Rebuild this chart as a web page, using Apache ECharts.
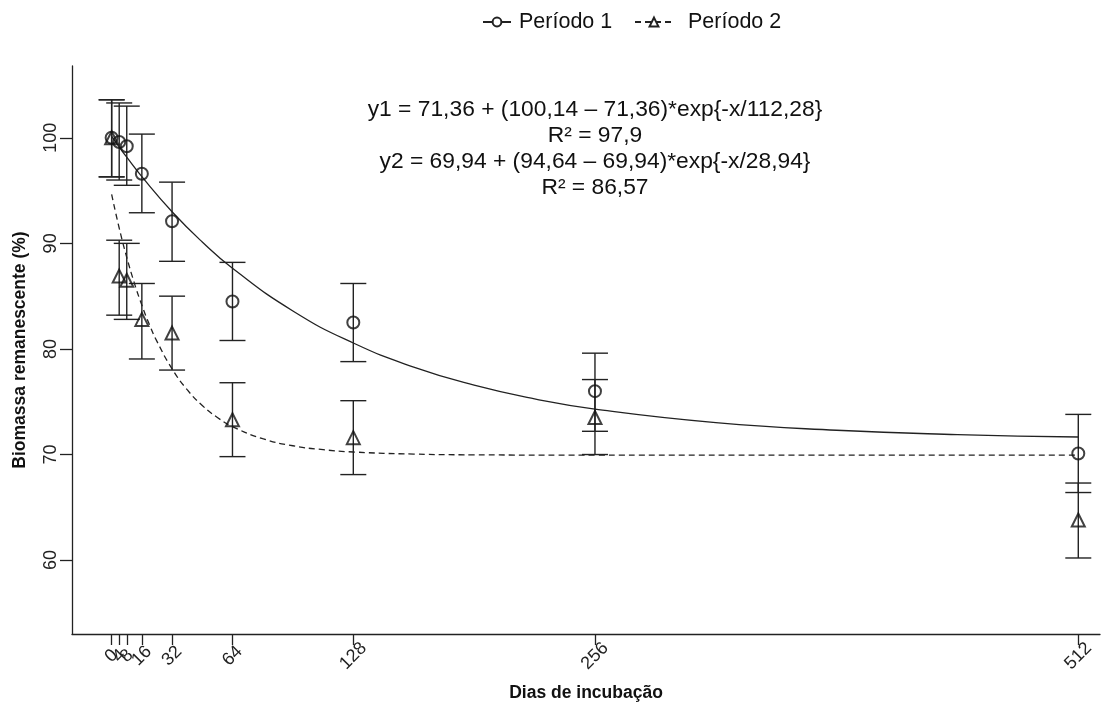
<!DOCTYPE html>
<html>
<head>
<meta charset="utf-8">
<script src="https://cdn.jsdelivr.net/npm/echarts@6/dist/echarts.min.js"></script>
<style>
html,body{margin:0;padding:0;background:#fff;}
#chart{width:1113px;height:703px;}
</style>
</head>
<body>
<div id="chart"></div>
<script>
// ---- data ----
const days = [0, 4, 8, 16, 32, 64, 128, 256, 512];
const xTicks = [0, 4, 8, 16, 32, 64, 128, 256, 512];
const yTicks = [60, 70, 80, 90, 100];

const p1Mean = [100.0, 99.6, 99.2, 96.6, 92.1, 84.5, 82.5, 76.0, 70.1];
const p1Low  = [96.3, 96.0, 95.5, 92.9, 88.3, 80.8, 78.8, 72.2, 66.4];
const p1High = [103.6, 103.3, 103.0, 100.35, 95.8, 88.2, 86.2, 79.6, 73.8];

const p2Mean = [100.0, 86.9, 86.5, 82.8, 81.5, 73.3, 71.6, 73.5, 63.8];
const p2Low  = [96.3, 83.2, 82.8, 79.05, 78.0, 69.8, 68.1, 70.0, 60.2];
const p2High = [103.6, 90.3, 90.0, 86.2, 85.0, 76.8, 75.1, 77.1, 67.3];

// fitted curves
const fit1X = [0, 4, 8, 16, 32, 48, 64, 96, 128, 160, 192, 224, 256, 320, 384, 448, 512];
const fit1Y = [100.14, 99.13, 98.16, 96.32, 93.00, 90.13, 87.64, 83.60, 80.56, 78.28, 76.57, 75.27, 74.30, 73.02, 72.30, 71.89, 71.66];
const fit2X = [0, 4, 8, 12, 16, 20, 24, 32, 40, 48, 56, 64, 80, 96, 112, 128, 160, 192, 256, 384, 512];
const fit2Y = [94.64, 91.45, 88.68, 86.26, 84.15, 82.31, 80.72, 78.12, 76.14, 74.64, 73.51, 72.65, 71.50, 70.83, 70.46, 70.24, 70.04, 69.97, 69.94, 69.94, 69.94];

const seriesNames = ['Período 1', 'Período 2'];
const eqLines = [
  'y1 = 71,36 + (100,14 – 71,36)*exp{-x/112,28}',
  'R² = 97,9',
  'y2 = 69,94 + (94,64 – 69,94)*exp{-x/28,94}',
  'R² = 86,57'
];
const xTitle = 'Dias de incubação';
const yTitle = 'Biomassa remanescente (%)';

// ---- build ----
const FONT = '"Liberation Sans", Arial, Helvetica, sans-serif';
const INK = '#222';
const X_MIN = -21, X_MAX = 523.5;

function pairs(xs, ys){ return xs.map((x,i)=>[x, ys[i]]); }
function bars(xs, lo, hi){ return xs.map((x,i)=>[x, lo[i], hi[i]]); }

function errRender(params, api){
  const x = api.value(0), lo = api.value(1), hi = api.value(2);
  const a = api.coord([x, lo]), b = api.coord([x, hi]);
  const w = 13;
  const st = {stroke: INK, lineWidth: 1.4};
  return {type:'group', children:[
    {type:'line', shape:{x1:a[0], y1:a[1], x2:b[0], y2:b[1]}, style:st},
    {type:'line', shape:{x1:a[0]-w, y1:a[1], x2:a[0]+w, y2:a[1]}, style:st},
    {type:'line', shape:{x1:b[0]-w, y1:b[1], x2:b[0]+w, y2:b[1]}, style:st}
  ]};
}

const legendText = {fontSize:21.5, color:'#111', fontFamily:FONT};

const chart = echarts.init(document.getElementById('chart'), null, {renderer:'canvas'});
chart.setOption({
  backgroundColor:'#fff',
  animation:false,
  textStyle:{fontFamily:FONT},
  grid:{left:72, right:13, top:66, bottom:69, containLabel:false, outerBoundsMode:'none'},
  legend:[
    {data:[seriesNames[0]], left:477, top:6, itemWidth:28, itemHeight:11,
     textStyle:Object.assign({padding:[0,0,0,3]}, legendText)},
    {data:[seriesNames[1]], left:629, top:6, itemWidth:38, itemHeight:11,
     textStyle:Object.assign({padding:[0,0,0,10]}, legendText)}
  ],
  xAxis:{
    type:'value', min:X_MIN, max:X_MAX,
    name: xTitle, nameLocation:'middle', nameGap:50,
    nameTextStyle:{fontSize:17.5, fontWeight:'bold', color:'#111', fontFamily:FONT},
    axisLine:{onZero:false, lineStyle:{color:INK, width:1.3}},
    axisTick:{show:true, length:11, customValues:xTicks, lineStyle:{color:INK, width:1.3}},
    axisLabel:{customValues:[X_MIN].concat(xTicks), rotate:45, align:'center', verticalAlign:'middle',
               formatter:(v)=> (v < 0 ? '' : String(v)),
               hideOverlap:false,
               fontSize:18, color:'#222', margin:22, fontFamily:FONT},
    splitLine:{show:false}
  },
  yAxis:{
    type:'value', min:53, max:106.8,
    name: yTitle, nameLocation:'middle', nameGap:43,
    nameTextStyle:{fontSize:17.5, fontWeight:'bold', color:'#111', fontFamily:FONT},
    axisLine:{show:true, onZero:false, lineStyle:{color:INK, width:1.3}},
    axisTick:{show:true, length:12, customValues:yTicks, lineStyle:{color:INK, width:1.3}},
    axisLabel:{customValues:yTicks, rotate:90, fontSize:18, color:'#222', margin:12, fontFamily:FONT},
    splitLine:{show:false}
  },
  graphic: eqLines.map((t,i)=>({
    type:'text', x:595, y:110 + i*26,
    style:{text:t, textAlign:'center', textVerticalAlign:'middle', fill:'#111', font:'22.8px ' + FONT}
  })),
  series:[
    {name:seriesNames[0], type:'line', data:pairs(fit1X, fit1Y), smooth:true,
     symbol:'emptyCircle', showSymbol:false, silent:true,
     lineStyle:{color:INK, width:1.3}, itemStyle:{color:INK}, z:2},
    {name:seriesNames[1], type:'line', data:pairs(fit2X, fit2Y), smooth:true,
     symbol:'emptyTriangle', showSymbol:false, silent:true,
     lineStyle:{color:INK, width:1.3, type:[6,4]}, itemStyle:{color:INK}, z:2},
    {name:'eb1', type:'custom', renderItem:errRender, data:bars(days, p1Low, p1High),
     encode:{x:0, y:[1,2]}, z:3},
    {name:'eb2', type:'custom', renderItem:errRender, data:bars(days, p2Low, p2High),
     encode:{x:0, y:[1,2]}, z:3},
    {name:'pts1', type:'scatter', data:pairs(days, p1Mean), symbol:'circle', symbolSize:12,
     itemStyle:{color:'rgba(0,0,0,0)', borderColor:'#111', borderWidth:2}, z:4},
    {name:'pts2', type:'scatter', data:pairs(days, p2Mean), symbol:'triangle', symbolSize:13,
     itemStyle:{color:'rgba(0,0,0,0)', borderColor:'#111', borderWidth:2}, z:4}
  ]
});
</script>
</body>
</html>
